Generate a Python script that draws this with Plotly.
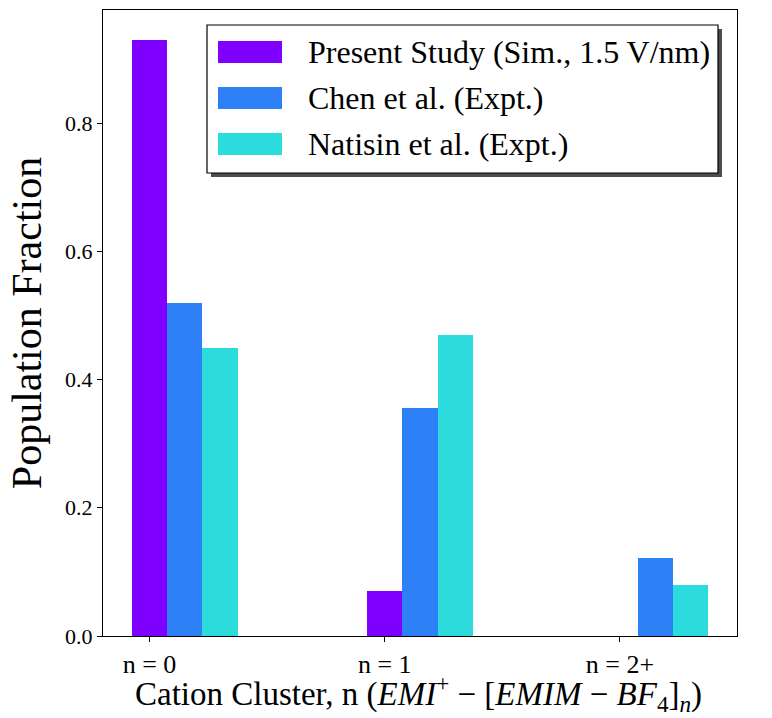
import plotly.graph_objects as go

# Cluster categories and population fractions per source
categories = ["n = 0", "n = 1", "n = 2+"]
present_study = [0.93, 0.07, 0.0]
chen = [0.52, 0.355, 0.122]
natisin = [0.45, 0.47, 0.08]

series_names = [
    "Present Study (Sim., 1.5 V/nm)",
    "Chen et al. (Expt.)",
    "Natisin et al. (Expt.)",
]
series_values = [present_study, chen, natisin]
series_colors = ["#7F00FF", "#2D80F6", "#2CDCDC"]

W, H = 772, 718
L, R, T, B = 103, 35, 10, 82
FONT = "Liberation Serif"
bar_w = 0.15

fig = go.Figure()
for k, (name, vals, col) in enumerate(zip(series_names, series_values, series_colors)):
    fig.add_trace(go.Bar(
        x=[i + k * bar_w for i in range(len(categories))],
        y=vals,
        width=bar_w,
        name=name,
        marker=dict(color=col, line=dict(width=0)),
        showlegend=False,
    ))

# pixel -> paper helpers
pw, ph = W - L - R, H - T - B
def px(x):
    return (x - L) / pw
def py(y):
    return (H - B - y) / ph

# legend box with drop shadow
lx0, ly0, lx1, ly1 = 207, 25, 718, 173
fig.add_shape(type="rect", xref="paper", yref="paper",
              x0=px(lx0 + 4), x1=px(lx1 + 4), y0=py(ly1 + 4), y1=py(ly0 + 4),
              fillcolor="#4d4d4d", line=dict(width=0), layer="above")
fig.add_shape(type="rect", xref="paper", yref="paper",
              x0=px(lx0), x1=px(lx1), y0=py(ly1), y1=py(ly0),
              fillcolor="white", line=dict(color="black", width=1.2), layer="above")
row_y = [52, 98, 144]
for name, col, ry in zip(series_names, series_colors, row_y):
    fig.add_shape(type="rect", xref="paper", yref="paper",
                  x0=px(218), x1=px(282), y0=py(ry + 11), y1=py(ry - 11),
                  fillcolor=col, line=dict(width=0), layer="above")
    fig.add_annotation(xref="paper", yref="paper", x=px(306), y=py(ry),
                       text=name, showarrow=False, xanchor="left", yanchor="middle",
                       font=dict(family=FONT, size=32, color="black"))

# x-axis title, placed below the tick labels
x_title = ("Cation Cluster, n (<i>EMI</i><sup>+</sup> − [<i>EMIM</i> − "
           "<i>BF</i><sub>4</sub>]<sub><i>n</i></sub>)")
fig.add_annotation(xref="paper", yref="paper", x=px(418), y=py(693),
                   text=x_title, showarrow=False, xanchor="center", yanchor="middle",
                   font=dict(family=FONT, size=33, color="black"))

fig.update_layout(
    width=W, height=H,
    margin=dict(l=L, r=R, t=T, b=B),
    paper_bgcolor="white", plot_bgcolor="white",
    bargap=0,
    font=dict(family=FONT, color="black"),
    xaxis=dict(
        range=[-0.1975, 2.4975],
        tickvals=list(range(len(categories))),
        ticktext=categories,
        tickfont=dict(size=26),
        ticks="outside", ticklen=5, tickcolor="black",
        showline=True, linecolor="black", linewidth=1, mirror=True,
        showgrid=False, zeroline=False,
    ),
    yaxis=dict(
        range=[0, 0.9765],
        tickvals=[0, 0.2, 0.4, 0.6, 0.8],
        ticktext=["0.0", "0.2", "0.4", "0.6", "0.8"],
        tickfont=dict(size=22),
        ticks="outside", ticklen=5, tickcolor="black",
        showline=True, linecolor="black", linewidth=1, mirror=True,
        showgrid=False, zeroline=False,
        title=dict(text="Population Fraction", font=dict(size=42), standoff=10),
    ),
)

fig.write_html("out.html")
